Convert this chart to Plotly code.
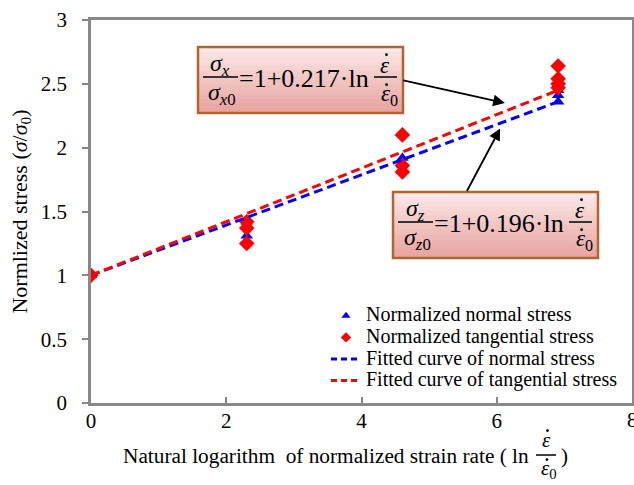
import plotly.graph_objects as go

# ---------------- data ----------------
normal_x = [0, 2.303, 2.303, 2.303, 4.605, 4.605, 4.605, 6.908, 6.908, 6.908]
normal_y = [1.00, 1.31, 1.38, 1.42, 1.92, 1.86, 1.82, 2.36, 2.41, 2.45]
tang_x = [0, 2.303, 2.303, 2.303, 4.605, 4.605, 4.605, 6.908, 6.908, 6.908, 6.908]
tang_y = [1.00, 1.25, 1.37, 1.42, 2.10, 1.86, 1.81, 2.47, 2.50, 2.54, 2.64]
fit_x = [0, 6.908]
fit_normal = [1.00, 2.36]
fit_tang = [1.00, 2.45]
x_ticks = [0, 2, 4, 6, 8]
y_ticks = [0, 0.5, 1, 1.5, 2, 2.5, 3]
legend_names = ["Normalized normal stress", "Normalized tangential stress",
                "Fitted curve of normal stress", "Fitted curve of tangential stress"]

FONT = "Liberation Serif"
W, H = 634, 485
L, R, T, B = 91, 2, 20, 82
PW, PH = W - L - R, H - T - B

BLUE = "#0000ff"
RED = "#ff0000"


def px(x):
    return (x - L) / PW


def py(y):
    return (H - B - y) / PH


def lg(name):
    return '<span style="font-size:20px">%s</span>' % name


fig = go.Figure()
fig.add_trace(go.Scatter(x=normal_x, y=normal_y, mode="markers", showlegend=False,
                         marker=dict(symbol="triangle-up", size=11, color=BLUE)))
fig.add_trace(go.Scatter(x=tang_x, y=tang_y, mode="markers", showlegend=False,
                         marker=dict(symbol="diamond", size=12, color=RED)))
fig.add_trace(go.Scatter(x=fit_x, y=fit_normal, mode="lines", showlegend=False,
                         line=dict(color=BLUE, width=3, dash="9px,5px")))
fig.add_trace(go.Scatter(x=fit_x, y=fit_tang, mode="lines", showlegend=False,
                         line=dict(color=RED, width=3, dash="9px,5px")))
# legend entries (same styles, small legend symbols)
fig.add_trace(go.Scatter(x=[None], y=[None], mode="markers", name=lg(legend_names[0]),
                         marker=dict(symbol="triangle-up", size=8, color=BLUE)))
fig.add_trace(go.Scatter(x=[None], y=[None], mode="markers", name=lg(legend_names[1]),
                         marker=dict(symbol="diamond", size=8, color=RED)))
fig.add_trace(go.Scatter(x=[None], y=[None], mode="lines", name=lg(legend_names[2]),
                         line=dict(color=BLUE, width=3, dash="6px,4px")))
fig.add_trace(go.Scatter(x=[None], y=[None], mode="lines", name=lg(legend_names[3]),
                         line=dict(color=RED, width=3, dash="6px,4px")))

axis_common = dict(showgrid=False, zeroline=False, showline=True, linecolor="#888888", linewidth=2.5,
                   mirror=True, ticks="outside", tickcolor="#888888", ticklen=6, tickwidth=1.5,
                   tickfont=dict(family=FONT, size=21, color="black"))
fig.update_xaxes(range=[0, 8], tickvals=x_ticks, ticktext=[str(v) for v in x_ticks], **axis_common)
fig.update_xaxes(ticks="inside", ticklabelstandoff=-3)
fig.update_yaxes(range=[0, 3], tickvals=y_ticks, ticktext=["0", "0.5", "1", "1.5", "2", "2.5", "3"],
                 ticklabelstandoff=11,
                 title=dict(text="Normlized stress (<i>σ</i>/<i>σ</i><sub>0</sub>)",
                            font=dict(family=FONT, size=22, color="black"), standoff=8),
                 **axis_common)

shapes = []
annotations = []


def add_box(x0, y0, x1, y1):
    n = 14
    c0 = (251, 232, 231)
    c1 = (231, 164, 161)
    for i in range(n):
        t = i / (n - 1)
        c = tuple(int(c0[k] + (c1[k] - c0[k]) * t) for k in range(3))
        ya = y0 + (y1 - y0) * i / n
        yb = y0 + (y1 - y0) * (i + 1) / n
        shapes.append(dict(type="rect", xref="paper", yref="paper", x0=px(x0), x1=px(x1),
                           y0=py(ya), y1=py(yb + 0.5), fillcolor="rgb(%d,%d,%d)" % c,
                           line=dict(width=0), layer="above"))
    shapes.append(dict(type="rect", xref="paper", yref="paper", x0=px(x0), x1=px(x1), y0=py(y0), y1=py(y1),
                       line=dict(color="#b5632d", width=2.5), fillcolor="rgba(0,0,0,0)", layer="above"))


def text(x, y, s, size=22, xanchor="center"):
    annotations.append(dict(xref="paper", yref="paper", x=px(x), y=py(y), text=s, showarrow=False,
                            xanchor=xanchor, yanchor="middle",
                            font=dict(family=FONT, size=size, color="black")))


def hline(x0, x1, y, w=1.5):
    shapes.append(dict(type="line", xref="paper", yref="paper", x0=px(x0), x1=px(x1), y0=py(y), y1=py(y),
                       line=dict(color="black", width=w), layer="above"))


def dot(x, y, r=1.4):
    shapes.append(dict(type="circle", xref="paper", yref="paper", x0=px(x - r), x1=px(x + r),
                       y0=py(y - r), y1=py(y + r), fillcolor="black", line=dict(width=0), layer="above"))


def epsdot(x, y, size, sub=False):
    # italic epsilon with a dot above
    s = "<i>ε</i><sub>0</sub>" if sub else "<i>ε</i>"
    text(x, y, s, size)
    ex = x - size * 0.17 if sub else x
    dot(ex + 1.5, y - size * 0.45)


def equation(bx0, by0, sub, coef):
    # bx0, by0: top-left of box
    add_box(bx0, by0, bx0 + 205, by0 + 66)
    cy = by0 + 32
    text(bx0 + 22, cy - 14, "<i>σ</i><sub><i>%s</i></sub>" % sub, 24)
    hline(bx0 + 5, bx0 + 40, cy - 2)
    text(bx0 + 24, cy + 15, "<i>σ</i><sub><i>%s</i>0</sub>" % sub, 24)
    text(bx0 + 39, cy - 1, "=1+%s·ln" % coef, 26, xanchor="left")
    epsdot(bx0 + 187, cy - 14, 23)
    hline(bx0 + 176, bx0 + 199, cy - 2)
    epsdot(bx0 + 191, cy + 16, 23, sub=True)


equation(198, 47, "x", "0.217")
equation(393, 192, "z", "0.196")

# arrows
annotations.append(dict(x=6.12, y=2.35, xref="x", yref="y", ax=-103, ay=-23,
                        showarrow=True, arrowhead=2, arrowsize=1.3, arrowwidth=1.8, arrowcolor="black", text=""))
annotations.append(dict(x=6.05, y=2.15, xref="x", yref="y", ax=-34, ay=64,
                        showarrow=True, arrowhead=2, arrowsize=1.3, arrowwidth=1.8, arrowcolor="black", text=""))

# last x tick label (cut by the figure edge, as in the original)
annotations.append(dict(xref="x", yref="paper", x=x_ticks[-1], y=py(420), text=str(x_ticks[-1]),
                        showarrow=False, xanchor="center", yanchor="middle",
                        font=dict(family=FONT, size=21, color="black")))

# x axis title (with fraction)
text(531, 456, "Natural logarithm  of normalized strain rate ( ln", 21.3, xanchor="right")
epsdot(546, 440, 21)
hline(536, 556, 455)
epsdot(549, 469, 21, sub=True)
text(559, 456, ")", 21, xanchor="left")

fig.update_layout(
    width=W, height=H, margin=dict(l=L, r=R, t=T, b=B, autoexpand=False),
    paper_bgcolor="white", plot_bgcolor="white",
    font=dict(family=FONT, color="black"),
    showlegend=True,
    legend=dict(x=px(326), y=py(300), xanchor="left", yanchor="top", bgcolor="rgba(0,0,0,0)",
                font=dict(family=FONT, size=14.3, color="black"), tracegroupgap=0),
    shapes=shapes, annotations=annotations,
)

fig.write_html("out.html")
